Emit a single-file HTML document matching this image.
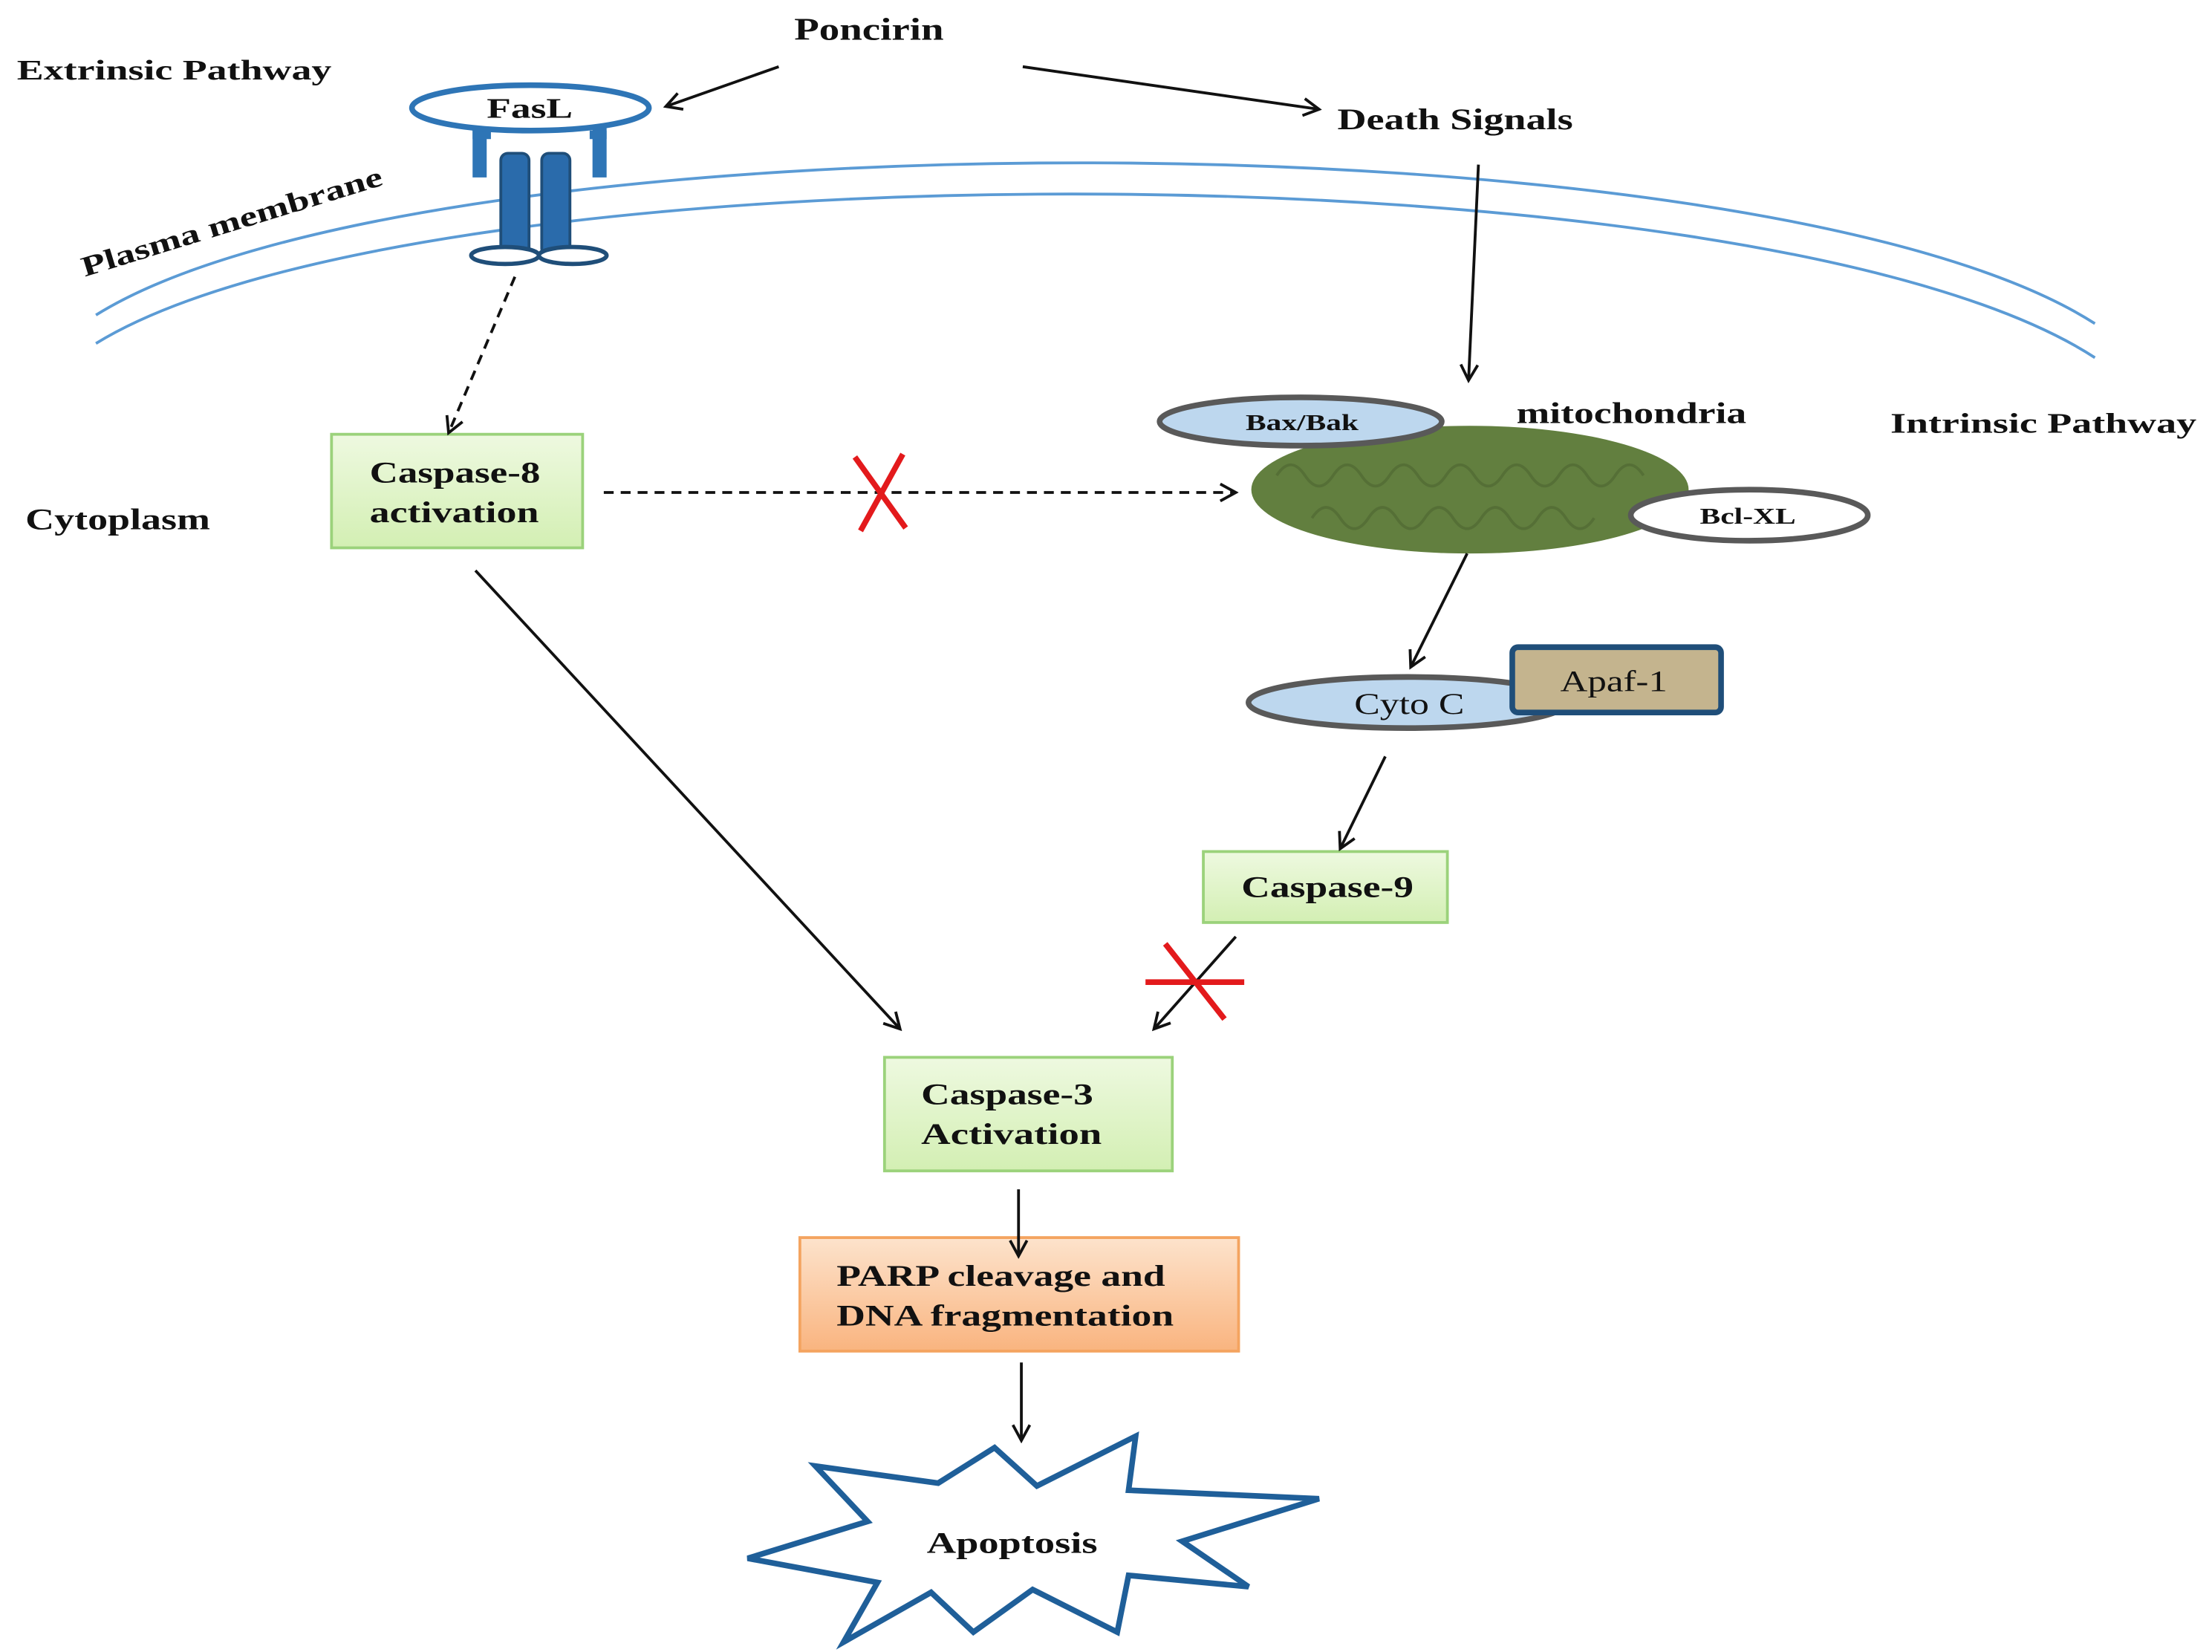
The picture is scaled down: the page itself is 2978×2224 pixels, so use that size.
<!DOCTYPE html>
<html><head><meta charset="utf-8"><style>
html,body{margin:0;padding:0;background:#fff}
svg{display:block}
text{font-family:"Liberation Serif",serif;font-weight:bold;fill:#111}
</style></head><body>
<svg width="2978" height="2224" viewBox="0 0 1568 1164" preserveAspectRatio="none" xmlns="http://www.w3.org/2000/svg">
<defs>
<marker id="ah" markerWidth="14" markerHeight="14" refX="12" refY="7" orient="auto" markerUnits="userSpaceOnUse">
<path d="M1,1 L12,7 L1,13" fill="none" stroke="#111" stroke-width="2"/>
</marker>
<linearGradient id="gg" x1="0" y1="0" x2="0" y2="1"><stop offset="0" stop-color="#eef9e0"/><stop offset="1" stop-color="#d3efb3"/></linearGradient>
<linearGradient id="og" x1="0" y1="0" x2="0" y2="1"><stop offset="0" stop-color="#fde3cc"/><stop offset="1" stop-color="#f9b47f"/></linearGradient>
</defs>

<text x="563" y="28" font-size="22" textLength="106" lengthAdjust="spacingAndGlyphs">Poncirin</text>
<text x="12" y="56" font-size="20" textLength="223" lengthAdjust="spacingAndGlyphs">Extrinsic Pathway</text>
<text x="948" y="91" font-size="21" textLength="167" lengthAdjust="spacingAndGlyphs">Death Signals</text>
<text x="1075" y="298" font-size="21" textLength="163" lengthAdjust="spacingAndGlyphs">mitochondria</text>
<text x="1340" y="305" font-size="20" textLength="217" lengthAdjust="spacingAndGlyphs">Intrinsic Pathway</text>
<text x="18" y="373" font-size="21" textLength="131" lengthAdjust="spacingAndGlyphs">Cytoplasm</text>

<!-- membrane -->
<path d="M68,222 C300,78 1250,78 1485,228" fill="none" stroke="#5b9bd5" stroke-width="2"/>
<path d="M68,242 C300,100 1250,100 1485,252" fill="none" stroke="#5b9bd5" stroke-width="2"/>
<text x="0" y="0" font-size="20" transform="translate(60,195) rotate(-17)" textLength="222" lengthAdjust="spacingAndGlyphs">Plasma membrane</text>

<!-- FasL receptor -->
<path d="M340,88 V125 M425,88 V125" stroke="#2e75b6" stroke-width="10"/>
<path d="M335,95 H348 M418,95 H430" stroke="#2e75b6" stroke-width="6"/>
<ellipse cx="376" cy="76" rx="84" ry="16" fill="#fff" stroke="#2e75b6" stroke-width="4"/>
<text x="345" y="83" font-size="20" textLength="61" lengthAdjust="spacingAndGlyphs">FasL</text>
<rect x="355" y="108" width="20" height="72" rx="5" fill="#2a6bab" stroke="#1f4e79" stroke-width="2"/>
<rect x="384" y="108" width="20" height="72" rx="5" fill="#2a6bab" stroke="#1f4e79" stroke-width="2"/>
<ellipse cx="358" cy="180" rx="24" ry="6" fill="#fff" stroke="#1f4e79" stroke-width="3"/>
<ellipse cx="406" cy="180" rx="24" ry="6" fill="#fff" stroke="#1f4e79" stroke-width="3"/>

<!-- Caspase-8 -->
<rect x="235" y="306" width="178" height="80" fill="url(#gg)" stroke="#9bd27b" stroke-width="2"/>
<text x="262" y="340" font-size="21" textLength="121" lengthAdjust="spacingAndGlyphs">Caspase-8</text>
<text x="262" y="368" font-size="21" textLength="120" lengthAdjust="spacingAndGlyphs">activation</text>

<!-- mitochondria -->
<ellipse cx="1042" cy="345" rx="155" ry="45" fill="#627f3f"/>
<path d="M905,335 q10,-15 20,0 t20,0 t20,0 t20,0 t20,0 t20,0 t20,0 t20,0 t20,0 t20,0 t20,0 t20,0 t20,0" fill="none" stroke="#556f36" stroke-width="2"/>
<path d="M930,365 q10,-15 20,0 t20,0 t20,0 t20,0 t20,0 t20,0 t20,0 t20,0 t20,0 t20,0" fill="none" stroke="#556f36" stroke-width="2"/>
<ellipse cx="922" cy="297" rx="100" ry="17" fill="#bdd7ee" stroke="#595959" stroke-width="4"/>
<text x="883" y="303" font-size="16" textLength="80" lengthAdjust="spacingAndGlyphs">Bax/Bak</text>
<ellipse cx="1240" cy="363" rx="84" ry="18" fill="#fff" stroke="#595959" stroke-width="4"/>
<text x="1205" y="369" font-size="16" textLength="68" lengthAdjust="spacingAndGlyphs">Bcl-XL</text>

<!-- Cyto C -->
<ellipse cx="998" cy="495" rx="113" ry="18" fill="#bdd7ee" stroke="#595959" stroke-width="4"/>
<text x="960" y="503" font-size="21" style="font-weight:normal" textLength="78" lengthAdjust="spacingAndGlyphs">Cyto C</text>
<rect x="1072" y="456" width="148" height="46" rx="4" fill="#c4b48e" stroke="#1f4e79" stroke-width="4"/>
<text x="1106" y="487" font-size="21" style="font-weight:normal" textLength="76" lengthAdjust="spacingAndGlyphs">Apaf-1</text>

<!-- Caspase-9 -->
<rect x="853" y="600" width="173" height="50" fill="url(#gg)" stroke="#9bd27b" stroke-width="2"/>
<text x="880" y="632" font-size="21" textLength="122" lengthAdjust="spacingAndGlyphs">Caspase-9</text>

<!-- Caspase-3 -->
<rect x="627" y="745" width="204" height="80" fill="url(#gg)" stroke="#9bd27b" stroke-width="2"/>
<text x="653" y="778" font-size="21" textLength="122" lengthAdjust="spacingAndGlyphs">Caspase-3</text>
<text x="653" y="806" font-size="21" textLength="128" lengthAdjust="spacingAndGlyphs">Activation</text>

<!-- PARP -->
<rect x="567" y="872" width="311" height="80" fill="url(#og)" stroke="#f4a460" stroke-width="2"/>
<text x="593" y="906" font-size="21" textLength="233" lengthAdjust="spacingAndGlyphs">PARP cleavage and</text>
<text x="593" y="934" font-size="21" textLength="239" lengthAdjust="spacingAndGlyphs">DNA fragmentation</text>

<!-- arrows -->
<line x1="552" y1="47" x2="472" y2="75" stroke="#111" stroke-width="2" marker-end="url(#ah)"/>
<line x1="725" y1="47" x2="935" y2="77" stroke="#111" stroke-width="2" marker-end="url(#ah)"/>
<line x1="365" y1="195" x2="318" y2="305" stroke="#111" stroke-width="2" stroke-dasharray="7,5" marker-end="url(#ah)"/>
<line x1="428" y1="347" x2="876" y2="347" stroke="#111" stroke-width="2" stroke-dasharray="7,5" marker-end="url(#ah)"/>
<path d="M606,322 L642,372 M640,320 L610,374" stroke="#e31a1c" stroke-width="4"/>
<line x1="1048" y1="116" x2="1041" y2="268" stroke="#111" stroke-width="2" marker-end="url(#ah)"/>
<line x1="1040" y1="390" x2="1000" y2="470" stroke="#111" stroke-width="2" marker-end="url(#ah)"/>
<line x1="982" y1="533" x2="950" y2="598" stroke="#111" stroke-width="2" marker-end="url(#ah)"/>
<line x1="876" y1="660" x2="818" y2="725" stroke="#111" stroke-width="2" marker-end="url(#ah)"/>
<path d="M812,692 H882 M826,665 L868,718" stroke="#e31a1c" stroke-width="4"/>
<line x1="337" y1="402" x2="638" y2="725" stroke="#111" stroke-width="2" marker-end="url(#ah)"/>
<line x1="722" y1="838" x2="722" y2="885" stroke="#111" stroke-width="2" marker-end="url(#ah)"/>
<line x1="724" y1="960" x2="724" y2="1015" stroke="#111" stroke-width="2" marker-end="url(#ah)"/>

<!-- Apoptosis star -->
<polygon points="530,1098 615,1072 578,1033 665,1045 705,1020 735,1047 805,1012 800,1050 935,1056 838,1086 885,1118 800,1110 792,1150 732,1120 690,1150 660,1122 598,1157 622,1115" fill="#fff" stroke="#1f5f99" stroke-width="4" stroke-linejoin="miter"/>
<text x="657" y="1094" font-size="21" textLength="121" lengthAdjust="spacingAndGlyphs">Apoptosis</text>
</svg>
</body></html>
